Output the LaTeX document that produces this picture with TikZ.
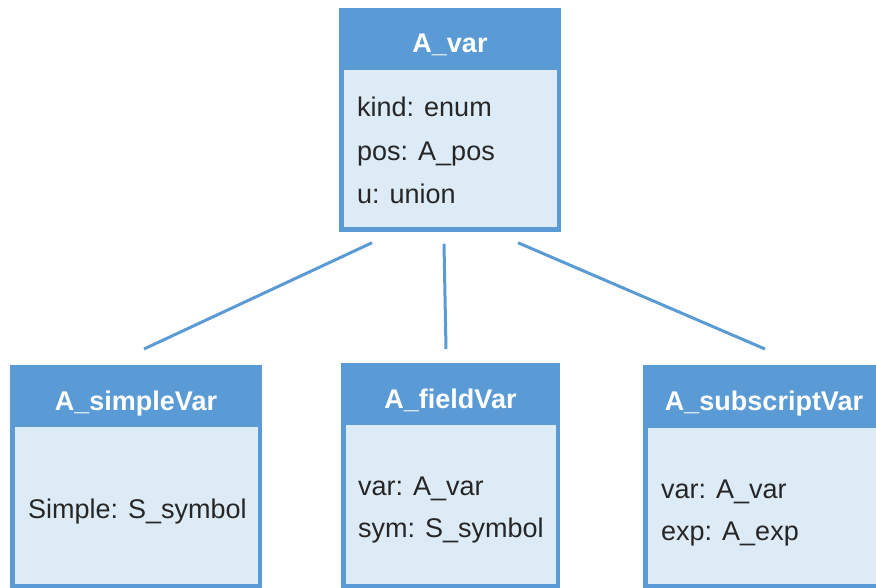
\documentclass[tikz,border=0pt]{standalone}
\usepackage{fontspec}
\setmainfont{Liberation Sans}
\usetikzlibrary{calc}
\definecolor{headblue}{HTML}{5B9BD5}
\definecolor{bodyblue}{HTML}{DDEBF7}
\definecolor{txt}{HTML}{262626}
\tikzset{
  box/.style={draw=headblue, line width=4.5pt, fill=bodyblue, inner sep=0pt, outer sep=0pt},
  head/.style={fill=headblue, inner sep=0pt, outer sep=0pt, text=white,
    font=\fontsize{27}{32}\selectfont\bfseries, text height=28pt, text depth=0pt},
  field/.style={anchor=base west, inner sep=0pt, text=txt, font=\fontsize{27}{32}\selectfont},
  link/.style={draw=headblue, line width=3pt}
}
\begin{document}
\begin{tikzpicture}[x=1pt, y=-1pt]
  \useasboundingbox (0,0) rectangle (876,588);

  % A_var
  \node[box, minimum width=217.5pt, minimum height=219.5pt] (var) at (450,120) {};
  \node[head, minimum width=222pt, minimum height=62pt] (varh) at (450,39) {A\_var};
  \node[field] (v1) at (357,117) {kind: enum};
  \node[field] (v2) at (357,161) {pos: A\_pos};
  \node[field] (v3) at (357,204) {u: union};

  % A_simpleVar
  \node[box, minimum width=247.5pt, minimum height=218.5pt] (simple) at (136,476.5) {};
  \node[head, minimum width=252pt, minimum height=62pt] (simpleh) at (136,396) {A\_simpleVar};
  \node[field] (s1) at (28,518) {Simple: S\_symbol};

  % A_fieldVar
  \node[box, minimum width=214.5pt, minimum height=220.5pt] (fieldv) at (450.5,475.5) {};
  \node[head, minimum width=219pt, minimum height=62pt] (fieldh) at (450.5,394) {A\_fieldVar};
  \node[field] (f1) at (358,495) {var: A\_var};
  \node[field] (f2) at (358,537) {sym: S\_symbol};

  % A_subscriptVar
  \node[box, minimum width=237.5pt, minimum height=218.5pt] (sub) at (764,476.5) {};
  \node[head, minimum width=242pt, minimum height=63pt] (subh) at (764,396.5) {A\_subscriptVar};
  \node[field] (u1) at (661,498) {var: A\_var};
  \node[field] (u2) at (661,540) {exp: A\_exp};

  % connector ends, kept clear of the boxes
  \coordinate (a1) at ($(var.south)+(-78,13)$);
  \coordinate (a2) at ($(var.south)+(-6,14)$);
  \coordinate (a3) at ($(var.south)+(68,13)$);
  \coordinate (b1) at ($(simpleh.north)+(8,-16)$);
  \coordinate (b2) at ($(fieldh.north)+(-4.5,-14)$);
  \coordinate (b3) at ($(subh.north)+(1,-16)$);
  \draw[link] (a1) -- (b1);
  \draw[link] (a2) -- (b2);
  \draw[link] (a3) -- (b3);
\end{tikzpicture}
\end{document}
